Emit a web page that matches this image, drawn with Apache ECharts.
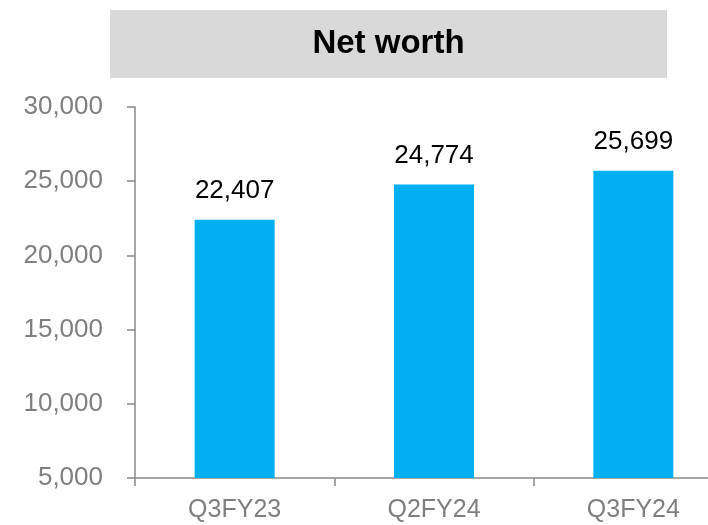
<!DOCTYPE html>
<html>
<head>
<meta charset="utf-8">
<script src="https://cdn.jsdelivr.net/npm/echarts@6/dist/echarts.min.js"></script>
<style>
  html, body { margin: 0; padding: 0; background: #fff; }
  #chart { width: 708px; height: 525px; }
</style>
</head>
<body>
<div id="chart"></div>
<script>
// data
const quarters = ['Q3FY23', 'Q2FY24', 'Q3FY24'];
const netWorth = [22407, 24774, 25699];
const yTicks = [5000, 10000, 15000, 20000, 25000, 30000];

const chart = echarts.init(document.getElementById('chart'));
const axisGrey = '#898989';
const font = 'Liberation Sans';

const option = {
  animation: false,
  graphic: [
    {
      type: 'rect',
      shape: { x: 110, y: 10, width: 557, height: 68 },
      style: { fill: '#d9d9d9' }
    },
    {
      type: 'text',
      x: 388.5,
      y: 44,
      style: {
        text: 'Net worth',
        fontFamily: font,
        fontWeight: 'bold',
        fontSize: 33,
        fill: '#000',
        align: 'center',
        verticalAlign: 'middle'
      }
    }
  ],
  // the plot runs past the right edge of the picture, as in the reference
  grid: { left: 135, top: 107, width: 598, height: 371, outerBoundsMode: 'none', containLabel: false },
  xAxis: {
    type: 'category',
    data: quarters,
    axisLine: { lineStyle: { color: axisGrey, width: 1.5 } },
    axisTick: { show: true, length: 8, lineStyle: { color: axisGrey, width: 1.5 } },
    axisLabel: { color: '#7f7f7f', fontFamily: font, fontSize: 25, margin: 20 }
  },
  yAxis: {
    type: 'value',
    min: yTicks[0],
    max: yTicks[yTicks.length - 1],
    interval: 5000,
    splitLine: { show: false },
    axisLine: { show: true, lineStyle: { color: axisGrey, width: 1.5 } },
    axisTick: { show: true, length: 8, lineStyle: { color: axisGrey, width: 1.5 } },
    axisLabel: {
      color: '#7f7f7f', fontFamily: font, fontSize: 26, margin: 32,
      formatter: v => v.toLocaleString('en-US')
    }
  },
  series: [
    {
      type: 'bar',
      data: netWorth,
      barWidth: 80,
      itemStyle: { color: '#00b0f0' },
      label: {
        show: true,
        position: 'top',
        distance: 16,
        color: '#000',
        fontFamily: font,
        fontSize: 26,
        formatter: p => p.value.toLocaleString('en-US')
      }
    }
  ]
};

chart.setOption(option);
</script>
</body>
</html>
